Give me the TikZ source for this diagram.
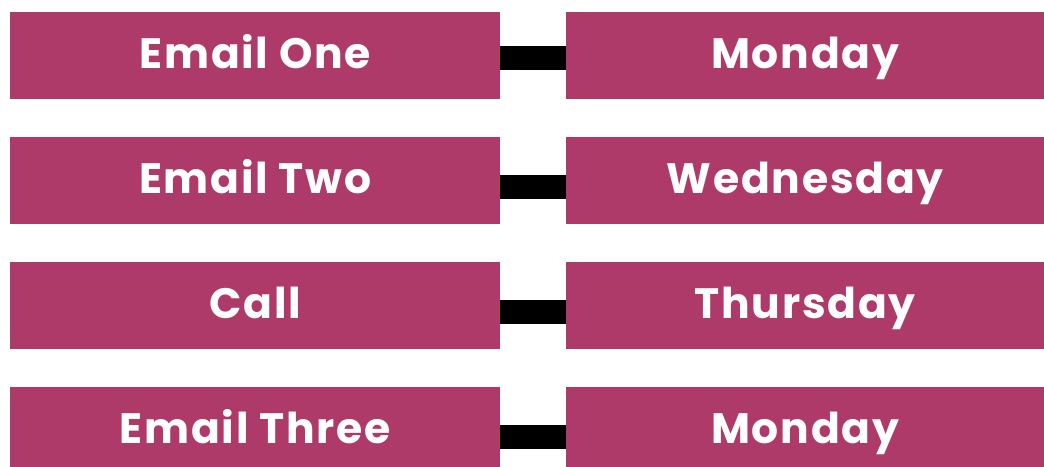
\documentclass[tikz,border=0pt]{standalone}
\usepackage{fontspec}
\setmainfont{Poppins}[LetterSpace=4]
\definecolor{berry}{RGB}{174,58,106}
\begin{document}
\begin{tikzpicture}[x=1pt,y=-1pt,
  tbox/.style={fill=berry, draw=none, inner sep=0pt, minimum height=87pt,
    text=white, font=\bfseries\fontsize{42.5}{42.5}\selectfont,
    text height=28pt, text depth=1.5pt, anchor=north west},
  lbox/.style={tbox, minimum width=490pt},
  rbox/.style={tbox, minimum width=478pt},
  link/.style={line width=24pt, black}]
\useasboundingbox (0,0) rectangle (1044,466);
\node[lbox] (l1) at (10,12) {Email One};
\node[rbox] (r1) at (566,12) {Monday};
\node[lbox] (l2) at (10,137) {Email Two};
\node[rbox] (r2) at (566,137) {Wednesday};
\node[lbox] (l3) at (10,262) {Call};
\node[rbox] (r3) at (566,262) {Thursday};
\node[lbox] (l4) at (10,387) {Email Three};
\node[rbox] (r4) at (566,387) {Monday};
\draw[link] ([yshift=-2.5pt]l1.east) -- ([yshift=-2.5pt]r1.west);
\draw[link] ([yshift=-6.5pt]l2.east) -- ([yshift=-6.5pt]r2.west);
\draw[link] ([yshift=-6.5pt]l3.east) -- ([yshift=-6.5pt]r3.west);
\draw[link] ([yshift=-6.5pt]l4.east) -- ([yshift=-6.5pt]r4.west);
\end{tikzpicture}
\end{document}
